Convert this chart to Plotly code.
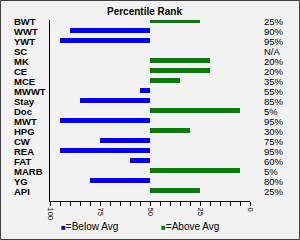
import plotly.graph_objects as go

categories = ["BWT", "WWT", "YWT", "SC", "MK", "CE", "MCE", "MWWT", "Stay", "Doc",
              "MWT", "HPG", "CW", "REA", "FAT", "MARB", "YG", "API"]
ranks = [25, 90, 95, None, 20, 20, 35, 55, 85, 5, 95, 30, 75, 95, 60, 5, 80, 25]
rank_labels = ["25%", "90%", "95%", "N/A", "20%", "20%", "35%", "55%", "85%", "5%",
               "95%", "30%", "75%", "95%", "60%", "5%", "80%", "25%"]
tick_values = [100, 75, 50, 25, 0]
tick_labels = ["100", "75", "50", "25", "0"]
midpoint = 50

BLUE = "#0000FF"
GREEN = "#008000"
W, H = 300, 240
L, R, T, B = 50, 50, 20, 39
PW, PH = W - L - R, H - T - B

below_y = [c for c, r in zip(categories, ranks) if r is not None and r > midpoint]
below_x = [r - midpoint for r in ranks if r is not None and r > midpoint]
above_y = [c for c, r in zip(categories, ranks) if r is not None and r <= midpoint]
above_x = [r - midpoint for r in ranks if r is not None and r <= midpoint]

fig = go.Figure()
fig.add_trace(go.Bar(y=below_y, x=below_x, base=midpoint, orientation="h",
                     marker=dict(color=BLUE, line=dict(width=0)), width=0.5))
fig.add_trace(go.Bar(y=above_y, x=above_x, base=midpoint, orientation="h",
                     marker=dict(color=GREEN, line=dict(width=0)), width=0.5))

def px_x(p):
    return (p - L) / PW

def px_y(p):
    return (T + PH - p) / PH

ann = []
for c in categories:
    ann.append(dict(text="<b>" + c + "</b>", xref="paper", yref="y", x=px_x(12), y=c,
                    xanchor="left", yanchor="middle", showarrow=False, yshift=-1,
                    font=dict(family="Liberation Sans", size=9.5, color="#000")))
for c, lab in zip(categories, rank_labels):
    ann.append(dict(text=lab, xref="paper", yref="y", x=px_x(262), y=c,
                    xanchor="left", yanchor="middle", showarrow=False, yshift=-1,
                    font=dict(family="Liberation Sans", size=9.5, color="#000")))
ann.append(dict(text="<b>Percentile Rank</b>", xref="paper", yref="paper",
                x=px_x(144.5), y=px_y(11.7), xanchor="center", yanchor="middle",
                showarrow=False, font=dict(family="Liberation Sans", size=10, color="#000")))
ann.append(dict(text="<span style='color:%s;font-size:8px'>■</span>=Below Avg" % BLUE,
                xref="paper", yref="paper", x=px_x(59), y=px_y(226),
                xanchor="left", yanchor="middle", showarrow=False,
                font=dict(family="Liberation Sans", size=10, color="#000")))
ann.append(dict(text="<span style='color:%s;font-size:8px'>■</span>=Above Avg" % GREEN,
                xref="paper", yref="paper", x=px_x(159), y=px_y(226),
                xanchor="left", yanchor="middle", showarrow=False,
                font=dict(family="Liberation Sans", size=10, color="#000")))

fig.update_layout(
    width=W, height=H,
    margin=dict(l=L, r=R, t=T, b=B, pad=0),
    paper_bgcolor="#F2F2F2", plot_bgcolor="#F2F2F2",
    showlegend=False, barmode="overlay",
    annotations=ann,
    shapes=[dict(type="rect", xref="paper", yref="paper",
                 x0=px_x(0.5), x1=px_x(299.5), y0=px_y(239.5), y1=px_y(0.5),
                 line=dict(color="#404040", width=1), fillcolor="rgba(0,0,0,0)", layer="below")],
    xaxis=dict(range=[100, 0], showgrid=False, zeroline=False,
               showline=True, linecolor="#000", linewidth=1,
               tickvals=tick_values, ticktext=tick_labels, tickangle=90,
               ticks="outside", ticklen=4, tickcolor="#000",
               minor=dict(dtick=5, ticks="outside", ticklen=4, tickcolor="#000", showgrid=False),
               tickfont=dict(family="Liberation Sans", size=7.5, color="#000")),
    yaxis=dict(type="category", categoryorder="array", categoryarray=categories,
               range=[18.05, -0.05], showgrid=False, zeroline=False,
               showline=True, linecolor="#000", linewidth=1,
               showticklabels=False, ticks=""),
)

fig.write_html("out.html")
